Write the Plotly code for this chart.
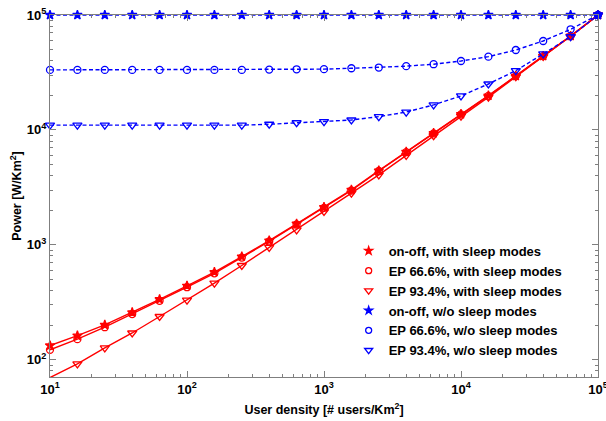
import plotly.graph_objects as go

# x: user density [# users/Km^2]
density = [10, 15.85, 25.12, 39.81, 63.1, 100, 158.5, 251.2, 398.1, 631, 1000,
           1585, 2512, 3981, 6310, 10000, 15850, 25120, 39810, 63100, 100000]

red_onoff = [133, 162, 201, 258, 336, 440, 579, 790, 1088, 1525, 2128,
             3006, 4430, 6440, 9360, 13700, 19860, 29500, 43950, 65600, 100000]
red_ep666 = [122, 151, 192, 250, 326, 428, 565, 775, 1070, 1505, 2100,
             2970, 4390, 6400, 9320, 13650, 19800, 29400, 43900, 65500, 100000]
red_ep934 = [70, 92, 127, 171, 238, 330, 464, 661, 949, 1349, 1950,
             2818, 4066, 6000, 8900, 13200, 19300, 29000, 43500, 65300, 100000]

blue_onoff = [100000] * 21
blue_ep666 = [33300, 33300, 33300, 33300, 33300, 33300, 33300, 33300, 33500, 33700, 33800,
              34400, 34900, 35900, 37300, 39800, 43400, 49600, 59400, 75100, 100000]
blue_ep934 = [11000, 11000, 11000, 11000, 11000, 11000, 11000, 11000, 11200, 11550, 11800,
              12200, 13050, 14300, 16500, 19770, 25100, 32800, 45800, 64700, 100000]

names = ["on-off, with sleep modes", "EP 66.6%, with sleep modes", "EP 93.4%, with sleep modes",
         "on-off, w/o sleep modes", "EP 66.6%, w/o sleep modes", "EP 93.4%, w/o sleep modes"]

xticks = [10, 100, 1000, 10000, 100000]
xticklabels = ["<b>10<sup>1</sup></b>", "<b>10<sup>2</sup></b>", "<b>10<sup>3</sup></b>",
               "<b>10<sup>4</sup></b>", "<b>10<sup>5</sup></b>"]
yticks = [100, 1000, 10000, 100000]
yticklabels = ["<b>10<sup>2</sup></b>", "<b>10<sup>3</sup></b>", "<b>10<sup>4</sup></b>",
               "<b>10<sup>5</sup></b>"]

RED = "#FF0000"
BLUE = "#0000FF"

series = [
    (red_onoff, RED, "solid", "star", 7),
    (red_ep666, RED, "solid", "circle-open", 7),
    (red_ep934, RED, "solid", "triangle-down-open", 8),
    (blue_onoff, BLUE, "4px,2.5px", "star", 7),
    (blue_ep666, BLUE, "4px,2.5px", "circle-open", 7),
    (blue_ep934, BLUE, "4px,2.5px", "triangle-down-open", 8),
]

fig = go.Figure()
for (vals, col, dash, sym, sz), nm in zip(series, names):
    fig.add_trace(go.Scatter(
        x=density, y=vals, mode="lines+markers", showlegend=False,
        line=dict(color=col, width=1.4, dash=dash),
        marker=dict(symbol=sym, size=sz, color=col, line=dict(color=col, width=1.3)),
        cliponaxis=False,
    ))
for (vals, col, dash, sym, sz), nm in zip(series, names):
    fig.add_trace(go.Scatter(
        x=[None], y=[None], mode="markers", name=nm,
        marker=dict(symbol=sym, size=sz - 1, color=col, line=dict(color=col, width=1.3)),
    ))

FONT = "Liberation Sans, Arial"
axis_common = dict(
    type="log", showgrid=False, zeroline=False, automargin=False,
    showline=True, linecolor="#7f7f7f", linewidth=1.2, mirror="ticks",
    ticks="inside", ticklen=6, tickcolor="#7f7f7f",
    tickfont=dict(family=FONT, size=13, color="black"),
    ticklabeloverflow="allow",
    minor=dict(ticks="inside", ticklen=3, tickcolor="#7f7f7f", dtick="D1", showgrid=False),
)

fig.update_xaxes(
    **axis_common, range=[1, 5], tickvals=xticks, ticktext=xticklabels,
    title=dict(text="<b>User density [# users/Km<sup>2</sup>]</b>",
               font=dict(family=FONT, size=12.5, color="black"), standoff=9),
)
fig.update_yaxes(
    **axis_common, range=[1.85, 5], tickvals=yticks, ticktext=yticklabels,
    title=dict(text="<b>Power [W/Km<sup>2</sup>]</b>",
               font=dict(family=FONT, size=12.5, color="black"), standoff=2),
)

fig.update_layout(
    width=606, height=421,
    margin=dict(l=50, r=8, t=15, b=44),
    paper_bgcolor="white", plot_bgcolor="white",
    font=dict(family=FONT, color="black"),
    legend=dict(
        x=0.545, y=0.39, xanchor="left", yanchor="top",
        bgcolor="rgba(255,255,255,0)", borderwidth=0,
        font=dict(family=FONT, size=13, color="black", weight="bold"),
        itemwidth=30, tracegroupgap=0,
    ),
)

fig.write_html("out.html", config={"displayModeBar": False},
               post_script="document.body.style.margin='0';")
